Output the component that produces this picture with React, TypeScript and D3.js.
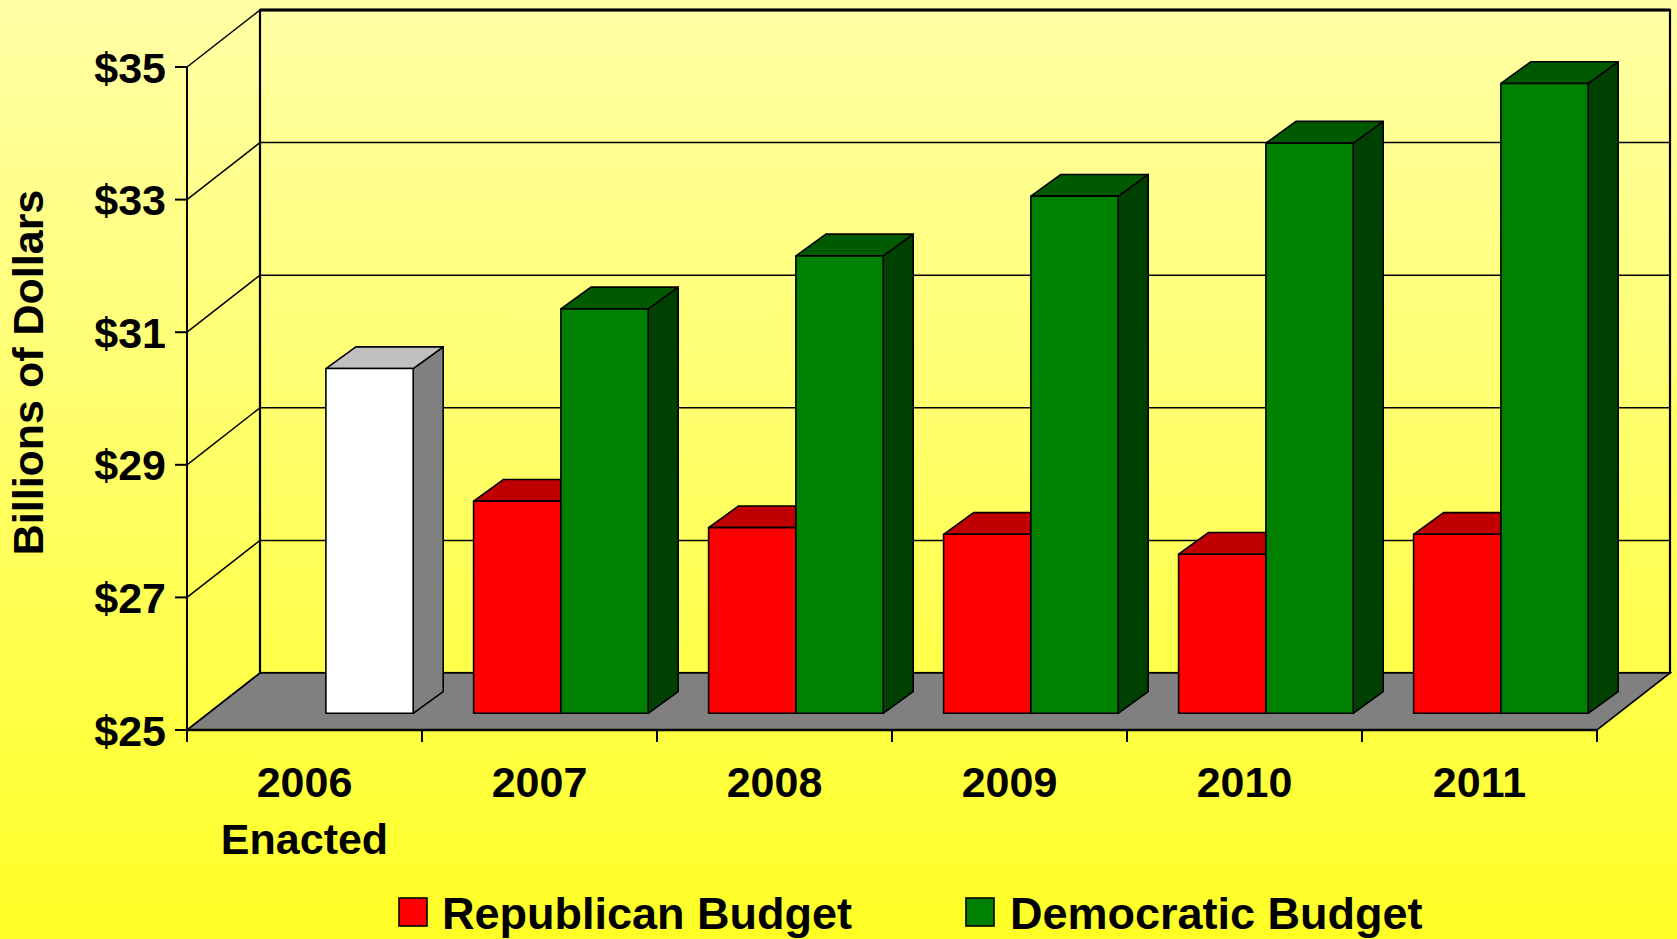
import { useEffect } from "react";
import * as d3 from "d3";

// chart data
const categories = ["2006", "2007", "2008", "2009", "2010", "2011"];
const subLabels = ["Enacted", "", "", "", "", ""];
const enacted = [30.2, null, null, null, null, null];
const republican = [null, 28.2, 27.8, 27.7, 27.4, 27.7];
const democratic = [null, 31.1, 31.9, 32.8, 33.6, 34.5];
const yTicks = [25, 27, 29, 31, 33, 35];
const legendNames = ["Republican Budget", "Democratic Budget"];

const W = 1677;
const H = 939;
const FONT = "'Liberation Sans', Arial, sans-serif";

// 3D look: depth of the floor, and where the bars stand on it
const DX = 73;
const DY = 57;
const BAR_SHIFT_X = 21.4;
const BAR_SHIFT_Y = 16.7;
const BAR_DX = 30;
const BAR_DY = 21.7;

const shades = {
  rep: { front: "#FF0000", top: "#C00000", side: "#900000" },
  dem: { front: "#008000", top: "#005A00", side: "#004000" },
  enacted: { front: "#FFFFFF", top: "#C0C0C0", side: "#808080" },
};

type Shade = { front: string; top: string; side: string };

function Bar({ x0, x1, yTop, yBase, shade }: { x0: number; x1: number; yTop: number; yBase: number; shade: Shade }) {
  const top = [[x0, yTop], [x0 + BAR_DX, yTop - BAR_DY], [x1 + BAR_DX, yTop - BAR_DY], [x1, yTop]];
  const side = [[x1, yTop], [x1 + BAR_DX, yTop - BAR_DY], [x1 + BAR_DX, yBase - BAR_DY], [x1, yBase]];
  const pts = (p: number[][]) => p.map((d) => d.join(",")).join(" ");
  return (
    <g stroke="#000" strokeWidth={1.6} strokeLinejoin="round">
      <polygon points={pts(side)} fill={shade.side} />
      <polygon points={pts(top)} fill={shade.top} />
      <rect x={x0} y={yTop} width={x1 - x0} height={yBase - yTop} fill={shade.front} />
    </g>
  );
}

export default function App() {
  useEffect(() => {
    document.body.style.margin = "0";
    document.body.style.overflow = "hidden";
  }, []);

  const x = d3.scaleBand<string>().domain(categories).range([187, 1597]).paddingInner(0.257).paddingOuter(0.1285);
  const slot = d3.scaleBand<string>().domain(["rep", "dem"]).range([0, x.bandwidth()]);
  const y = d3.scaleLinear().domain([25, 35]).range([730, 67]);

  const left = 187;
  const right = 1597;
  const yMin = y(25);
  const yMax = y(35);
  const step = x.step();
  const boundaries = d3.range(categories.length + 1).map((i) => left + i * step);
  const baseY = yMin - BAR_SHIFT_Y;

  const bars: { key: string; x0: number; x1: number; v: number; shade: Shade }[] = [];
  categories.forEach((c, i) => {
    const series: [string, (number | null)[], Shade][] = [
      ["rep", republican, shades.rep],
      ["dem", democratic, shades.dem],
      ["dem", enacted, shades.enacted],
    ];
    series.forEach(([s, vals, shade]) => {
      const v = vals[i];
      if (v == null) return;
      const x0 = (x(c) as number) + (slot(s) as number) + BAR_SHIFT_X;
      bars.push({ key: `${c}-${s}-${shade.front}`, x0, x1: x0 + slot.bandwidth(), v, shade });
    });
  });
  bars.sort((a, b) => a.x0 - b.x0);

  const legendY = 928.5;

  return (
    <svg width={W} height={H} style={{ display: "block" }} fontFamily={FONT}>
      <defs>
        <linearGradient id="bg" x1="0" y1="0" x2="0" y2="1">
          <stop offset="0%" stopColor="#FFFFA6" />
          <stop offset="100%" stopColor="#FFFF26" />
        </linearGradient>
      </defs>
      <rect width={W} height={H} fill="url(#bg)" />

      {/* back wall gridlines */}
      {yTicks.slice(1, -1).map((t) => (
        <line key={t} x1={left + DX} x2={right + DX} y1={y(t) - DY} y2={y(t) - DY} stroke="#000" strokeWidth={1.5} />
      ))}
      {/* side wall gridlines */}
      {yTicks.map((t) => (
        <line key={t} x1={left} y1={y(t)} x2={left + DX} y2={y(t) - DY} stroke="#000" strokeWidth={1.5} />
      ))}
      {/* back wall frame */}
      <rect x={left + DX} y={yMax - DY} width={right - left} height={yMin - yMax} fill="none" stroke="#000" strokeWidth={2.2} />
      <line x1={left + DX} x2={right + DX} y1={yMax - DY} y2={yMax - DY} stroke="#000" strokeWidth={3} />

      {/* floor */}
      <polygon
        points={`${left},${yMin} ${right},${yMin} ${right + DX},${yMin - DY} ${left + DX},${yMin - DY}`}
        fill="#808080"
        stroke="#000"
        strokeWidth={1.6}
      />

      {/* y axis */}
      <line x1={left} x2={left} y1={yMax} y2={yMin} stroke="#000" strokeWidth={2} />
      {yTicks.map((t) => (
        <g key={t}>
          <line x1={left - 12} x2={left} y1={y(t)} y2={y(t)} stroke="#000" strokeWidth={2} />
          <text x={166} y={y(t) + 15.5} textAnchor="end" fontSize={43} fontWeight="bold">
            ${t}
          </text>
        </g>
      ))}

      {/* x axis */}
      <line x1={left} x2={right} y1={yMin} y2={yMin} stroke="#000" strokeWidth={2.4} />
      {boundaries.map((b) => (
        <line key={b} x1={b} x2={b} y1={yMin} y2={yMin + 12} stroke="#000" strokeWidth={2} />
      ))}

      {/* bars */}
      {bars.map((b) => (
        <Bar key={b.key} x0={b.x0} x1={b.x1} yTop={y(b.v) - BAR_SHIFT_Y} yBase={baseY} shade={b.shade} />
      ))}

      {/* category labels */}
      {categories.map((c, i) => {
        const cx = (x(c) as number) + x.bandwidth() / 2;
        return (
          <text key={c} x={cx} textAnchor="middle" fontSize={43} fontWeight="bold">
            <tspan x={cx} y={797}>{c}</tspan>
            {subLabels[i] && (
              <tspan x={cx} y={854}>
                {subLabels[i]}
              </tspan>
            )}
          </text>
        );
      })}

      {/* y title */}
      <text transform="translate(42.5,372.5) rotate(-90)" textAnchor="middle" fontSize={43} fontWeight="bold">
        Billions of Dollars
      </text>

      {/* legend */}
      <rect x={399} y={legendY - 30.5} width={28} height={28} fill={shades.rep.front} stroke="#000" strokeWidth={1.6} />
      <text x={442} y={legendY} fontSize={45} fontWeight="bold">
        {legendNames[0]}
      </text>
      <rect x={966} y={legendY - 30.5} width={28} height={28} fill={shades.dem.front} stroke="#000" strokeWidth={1.6} />
      <text x={1010} y={legendY} fontSize={45} fontWeight="bold">
        {legendNames[1]}
      </text>
    </svg>
  );
}
